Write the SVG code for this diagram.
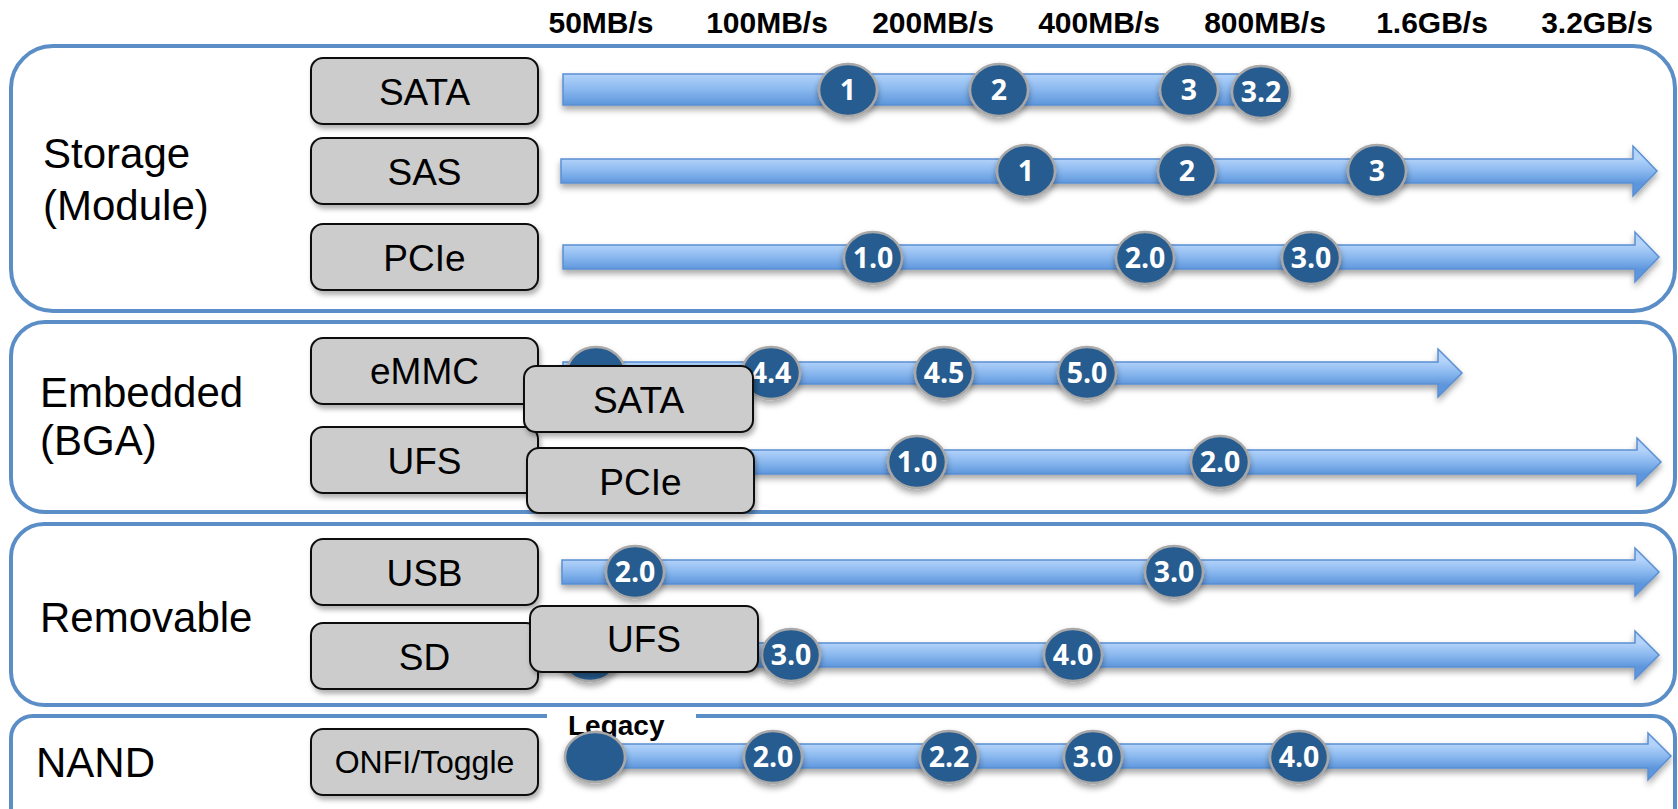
<svg xmlns="http://www.w3.org/2000/svg" width="1678" height="809" viewBox="0 0 1678 809">
<defs>
<linearGradient id="barg" x1="0" y1="0" x2="0" y2="1">
<stop offset="0" stop-color="#b3d3fa"/>
<stop offset="0.5" stop-color="#8ab8ef"/>
<stop offset="1" stop-color="#5d96dc"/>
</linearGradient>
<linearGradient id="headg" x1="0" y1="0" x2="0" y2="1">
<stop offset="0.25" stop-color="#b3d3fa"/>
<stop offset="0.5" stop-color="#8ab8ef"/>
<stop offset="0.75" stop-color="#5d96dc"/>
</linearGradient>
<filter id="sh" x="-20%" y="-20%" width="140%" height="160%">
<feDropShadow dx="0" dy="4" stdDeviation="3" flood-color="#000" flood-opacity="0.35"/>
</filter>
<filter id="bsh" x="-10%" y="-20%" width="120%" height="160%">
<feDropShadow dx="2" dy="4" stdDeviation="2.5" flood-color="#000" flood-opacity="0.3"/>
</filter>
</defs>
<style>
.grp{fill:#fff;stroke:#5b8ec7;stroke-width:4}
.glab{font-family:"Liberation Sans",Arial,sans-serif;font-size:42px;fill:#000}
.hdr{font-family:"Liberation Sans",Arial,sans-serif;font-size:30px;font-weight:bold;fill:#000;text-anchor:middle}
.box{fill:#cccccc;stroke:#111;stroke-width:2}
.blab{font-family:"Liberation Sans",Arial,sans-serif;font-size:37px;fill:#000;text-anchor:middle}
.bar{fill:url(#headg);stroke:#5a8fd2;stroke-width:1.5}
.ver{fill:#285b8f;stroke:#a8a8a8;stroke-width:2.5}
.vt{font-family:"Open Sans","Liberation Sans",sans-serif;font-size:28.5px;font-weight:bold;fill:#fff;text-anchor:middle}
</style>
<rect width="1678" height="809" fill="#fff"/>

<g id="headers">
<text class="hdr" x="601" y="33">50MB/s</text>
<text class="hdr" x="767" y="33">100MB/s</text>
<text class="hdr" x="933" y="33">200MB/s</text>
<text class="hdr" x="1099" y="33">400MB/s</text>
<text class="hdr" x="1265" y="33">800MB/s</text>
<text class="hdr" x="1432" y="33">1.6GB/s</text>
<text class="hdr" x="1597" y="33">3.2GB/s</text>
</g>

<g id="group-storage">
<rect class="grp" x="11" y="46" width="1664" height="265" rx="42"/>
<text class="glab" x="43" y="168">Storage</text>
<text class="glab" x="43" y="220">(Module)</text>
</g>
<g id="group-embedded">
<rect class="grp" x="11" y="322" width="1664" height="190" rx="34"/>
<text class="glab" x="40" y="407">Embedded</text>
<text class="glab" x="40" y="455">(BGA)</text>
</g>
<g id="group-removable">
<rect class="grp" x="11" y="524" width="1664" height="181" rx="33"/>
<text class="glab" x="40" y="632">Removable</text>
</g>
<g id="group-nand">
<rect class="grp" x="11" y="716" width="1664" height="130" rx="22"/>
<rect x="547" y="711" width="149" height="10" fill="#fff"/>
<text class="glab" x="36" y="777">NAND</text>
<text x="568" y="735" font-family="Liberation Sans, Arial, sans-serif" font-size="28" font-weight="bold" fill="#000">Legacy</text>
</g>

<g id="box-sata"><rect class="box" filter="url(#bsh)" x="311" y="58" width="227" height="66" rx="12"/><text class="blab" x="424.5" y="105">SATA</text></g>
<g id="box-sas"><rect class="box" filter="url(#bsh)" x="311" y="138" width="227" height="66" rx="12"/><text class="blab" x="424.5" y="185">SAS</text></g>
<g id="box-pcie"><rect class="box" filter="url(#bsh)" x="311" y="224" width="227" height="66" rx="12"/><text class="blab" x="424.5" y="271">PCIe</text></g>
<g id="box-emmc"><rect class="box" filter="url(#bsh)" x="311" y="338" width="227" height="66" rx="12"/><text class="blab" x="424.5" y="384">eMMC</text></g>
<g id="box-ufs"><rect class="box" filter="url(#bsh)" x="311" y="427" width="227" height="66" rx="12"/><text class="blab" x="424.5" y="474">UFS</text></g>
<g id="box-usb"><rect class="box" filter="url(#bsh)" x="311" y="539" width="227" height="66" rx="12"/><text class="blab" x="424.5" y="586">USB</text></g>
<g id="box-sd"><rect class="box" filter="url(#bsh)" x="311" y="623" width="227" height="66" rx="12"/><text class="blab" x="424.5" y="670">SD</text></g>
<g id="box-onfi"><rect class="box" filter="url(#bsh)" x="311" y="729" width="227" height="66" rx="12"/><text class="blab" x="424.5" y="773" style="font-size:32px">ONFI/Toggle</text></g>

<g id="connectors">
<rect filter="url(#sh)" x="563" y="74" width="682" height="31" fill="url(#barg)" stroke="#5a8fd2" stroke-width="1.5"/>
<path class="bar" filter="url(#sh)" d="M561,159 H1633 V146 L1657,171 L1633,196 V183 H561 Z"/>
<path class="bar" filter="url(#sh)" d="M563,245 H1635 V232 L1659,257 L1635,282 V269 H563 Z"/>
<path class="bar" filter="url(#sh)" d="M563,362 H1438 V349 L1462,373 L1438,397 V384 H563 Z"/>
<path class="bar" filter="url(#sh)" d="M563,450 H1637 V438 L1661,462 L1637,486 V474 H563 Z"/>
<path class="bar" filter="url(#sh)" d="M562,560 H1635 V548 L1659,572 L1635,596 V584 H562 Z"/>
<path class="bar" filter="url(#sh)" d="M563,643 H1635 V631 L1659,655 L1635,679 V667 H563 Z"/>
<path class="bar" filter="url(#sh)" d="M580,744 H1648 V733 L1671,756 L1648,780 V768 H580 Z"/>
</g>

<g id="versions-sata">
<ellipse class="ver" filter="url(#sh)" cx="848" cy="90" rx="29" ry="26"/><text class="vt" x="848" y="100">1</text>
<ellipse class="ver" filter="url(#sh)" cx="999" cy="90" rx="29" ry="26"/><text class="vt" x="999" y="100">2</text>
<ellipse class="ver" filter="url(#sh)" cx="1189" cy="90" rx="29" ry="26"/><text class="vt" x="1189" y="100">3</text>
<ellipse class="ver" filter="url(#sh)" cx="1261" cy="92" rx="29" ry="26"/><text class="vt" x="1261" y="102">3.2</text>
</g>
<g id="versions-sas">
<ellipse class="ver" filter="url(#sh)" cx="1026" cy="171" rx="29" ry="26"/><text class="vt" x="1026" y="181">1</text>
<ellipse class="ver" filter="url(#sh)" cx="1187" cy="171" rx="29" ry="26"/><text class="vt" x="1187" y="181">2</text>
<ellipse class="ver" filter="url(#sh)" cx="1377" cy="171" rx="29" ry="26"/><text class="vt" x="1377" y="181">3</text>
</g>
<g id="versions-pcie">
<ellipse class="ver" filter="url(#sh)" cx="873" cy="258" rx="29" ry="26"/><text class="vt" x="873" y="268">1.0</text>
<ellipse class="ver" filter="url(#sh)" cx="1145" cy="258" rx="29" ry="26"/><text class="vt" x="1145" y="268">2.0</text>
<ellipse class="ver" filter="url(#sh)" cx="1311" cy="258" rx="29" ry="26"/><text class="vt" x="1311" y="268">3.0</text>
</g>
<g id="versions-emmc">
<ellipse class="ver" filter="url(#sh)" cx="596" cy="373" rx="29" ry="26"/>
<ellipse class="ver" filter="url(#sh)" cx="771" cy="373" rx="29" ry="26"/><text class="vt" x="771" y="383">4.4</text>
<ellipse class="ver" filter="url(#sh)" cx="944" cy="373" rx="29" ry="26"/><text class="vt" x="944" y="383">4.5</text>
<ellipse class="ver" filter="url(#sh)" cx="1087" cy="373" rx="29" ry="26"/><text class="vt" x="1087" y="383">5.0</text>
</g>
<g id="versions-ufs">
<ellipse class="ver" filter="url(#sh)" cx="917" cy="462" rx="29" ry="26"/><text class="vt" x="917" y="472">1.0</text>
<ellipse class="ver" filter="url(#sh)" cx="1220" cy="462" rx="29" ry="26"/><text class="vt" x="1220" y="472">2.0</text>
</g>
<g id="versions-usb">
<ellipse class="ver" filter="url(#sh)" cx="635" cy="572" rx="29" ry="26"/><text class="vt" x="635" y="582">2.0</text>
<ellipse class="ver" filter="url(#sh)" cx="1174" cy="572" rx="29" ry="26"/><text class="vt" x="1174" y="582">3.0</text>
</g>
<g id="versions-sd">
<ellipse class="ver" filter="url(#sh)" cx="590" cy="655" rx="29" ry="26"/>
<ellipse class="ver" filter="url(#sh)" cx="791" cy="655" rx="29" ry="26"/><text class="vt" x="791" y="665">3.0</text>
<ellipse class="ver" filter="url(#sh)" cx="1073" cy="655" rx="29" ry="26"/><text class="vt" x="1073" y="665">4.0</text>
</g>
<g id="versions-nand">
<ellipse class="ver" filter="url(#sh)" cx="595" cy="757" rx="30" ry="25"/>
<ellipse class="ver" filter="url(#sh)" cx="773" cy="757" rx="29" ry="26"/><text class="vt" x="773" y="767">2.0</text>
<ellipse class="ver" filter="url(#sh)" cx="949" cy="757" rx="29" ry="26"/><text class="vt" x="949" y="767">2.2</text>
<ellipse class="ver" filter="url(#sh)" cx="1093" cy="757" rx="29" ry="26"/><text class="vt" x="1093" y="767">3.0</text>
<ellipse class="ver" filter="url(#sh)" cx="1299" cy="757" rx="29" ry="26"/><text class="vt" x="1299" y="767">4.0</text>
</g>

<g id="box-sata-embedded"><rect class="box" filter="url(#bsh)" x="524" y="366" width="229" height="66" rx="12"/><text class="blab" x="638.5" y="413">SATA</text></g>
<g id="box-pcie-embedded"><rect class="box" filter="url(#bsh)" x="527" y="448" width="227" height="65" rx="12"/><text class="blab" x="640.5" y="495">PCIe</text></g>
<g id="box-ufs-removable"><rect class="box" filter="url(#bsh)" x="530" y="606" width="228" height="66" rx="12"/><text class="blab" x="644" y="652">UFS</text></g>
</svg>
